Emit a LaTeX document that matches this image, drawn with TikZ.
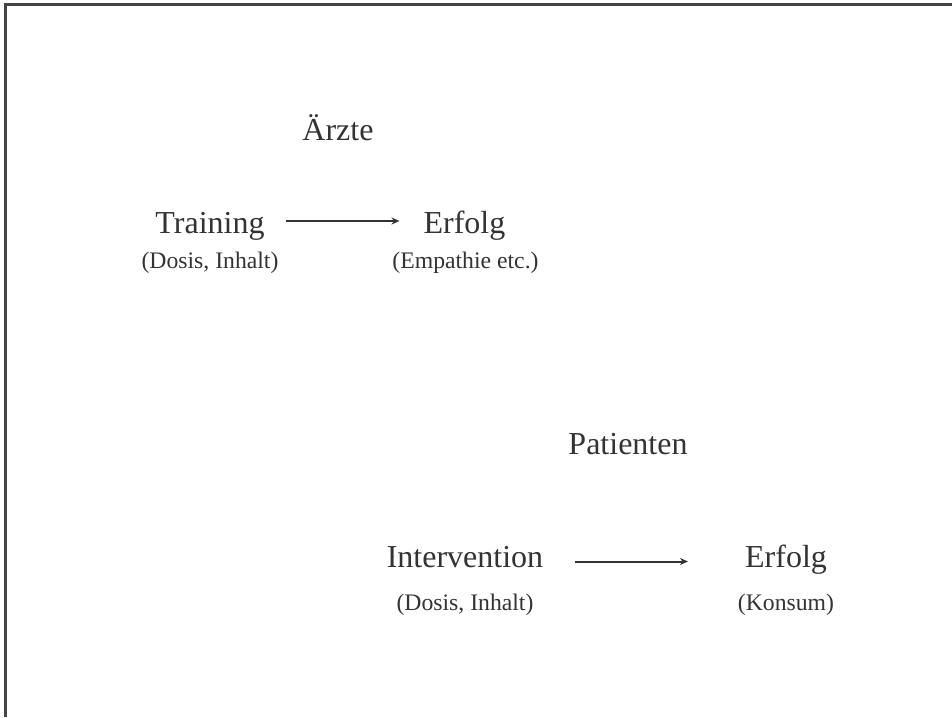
\documentclass[tikz,border=0pt]{standalone}
\usepackage{fontspec}
\setmainfont{Liberation Serif}
\usetikzlibrary{arrows.meta}
\definecolor{ink}{HTML}{333333}
\definecolor{frame}{HTML}{444444}
\begin{document}
\begin{tikzpicture}[x=1pt,y=-1pt,
  big/.style={anchor=base,inner sep=0pt,text=ink,font=\fontsize{32}{38}\selectfont},
  small/.style={anchor=base,inner sep=0pt,text=ink,font=\fontsize{23.7}{28}\selectfont},
  link/.style={draw=ink,line width=2pt,-{Stealth[length=8pt,width=7pt]}}]
\useasboundingbox (0,0) rectangle (952,717);
% frame: top and left edges only
\coordinate (ftr) at (952,5);
\coordinate (ftl) at (5,5);
\coordinate (fbl) at (5,717);
\draw[frame,line width=3pt] (ftr) -- (ftl) -- (fbl);

% physicians
\node[big] (aerzte) at (338,140) {Ärzte};
\node[big] (training) at (210,233) {Training};
\node[small] (dosisA) at (210,268) {(Dosis, Inhalt)};
\node[big] (erfolgA) at (464.5,233) {Erfolg};
\node[small] (empathie) at (465.5,268) {(Empathie etc.)};
\draw[link,shorten <=21pt,shorten >=24pt]
  ([yshift=12pt]training.base east) -- ([yshift=12pt]erfolgA.base west);

% patients
\node[big] (patienten) at (628,454) {Patienten};
\node[big] (intervention) at (465,567) {Intervention};
\node[small] (dosisB) at (465,610) {(Dosis, Inhalt)};
\node[big] (erfolgB) at (786,567) {Erfolg};
\node[small] (konsum) at (786,610) {(Konsum)};
\draw[link,shorten <=32pt,shorten >=57pt]
  ([yshift=5.5pt]intervention.base east) -- ([yshift=5.5pt]erfolgB.base west);
\end{tikzpicture}
\end{document}
